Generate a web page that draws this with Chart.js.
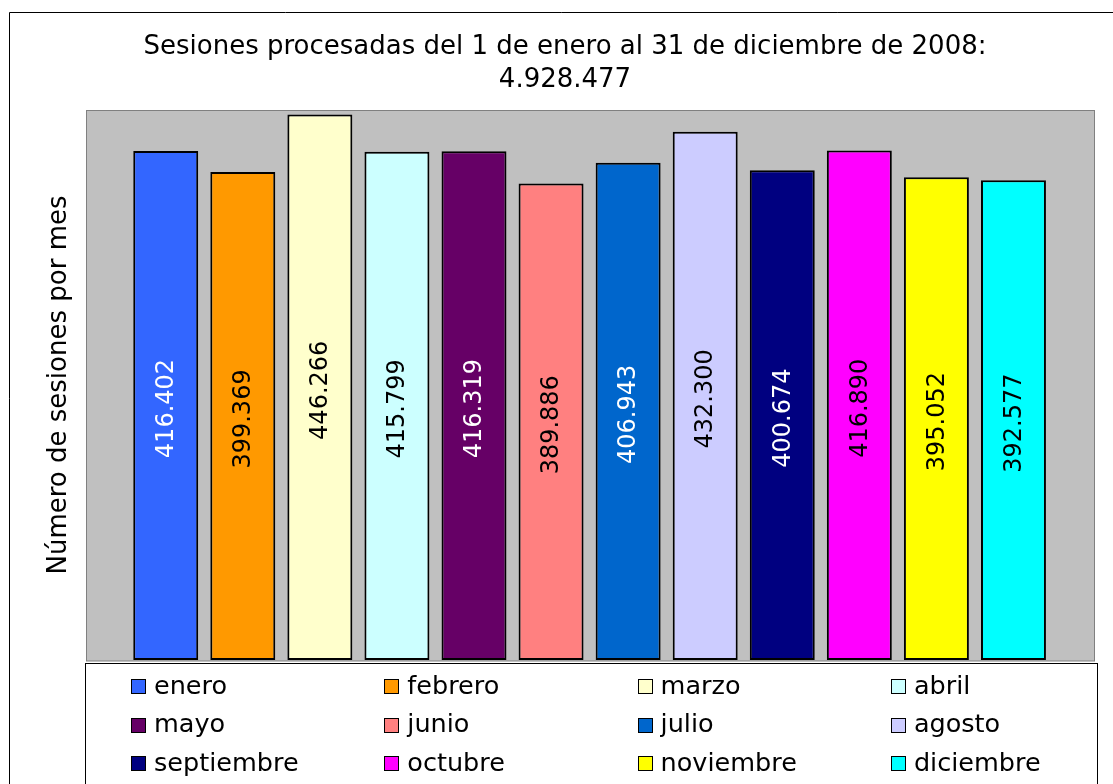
<!DOCTYPE html>
<html>
<head>
<meta charset="utf-8">
<script src="https://cdn.jsdelivr.net/npm/chart.js@4/dist/chart.umd.min.js"></script>
<style>
html,body{margin:0;padding:0;background:#fff;}
#wrap{width:1113px;height:784px;}
</style>
</head>
<body>
<div id="wrap"><canvas id="c" width="1113" height="784"></canvas></div>
<script>
const titleLines = ["Sesiones procesadas del 1 de enero al 31 de diciembre de 2008:", "4.928.477"];
const yTitle = "Número de sesiones por mes";
const months = ["enero","febrero","marzo","abril","mayo","junio","julio","agosto","septiembre","octubre","noviembre","diciembre"];
const sessions = [416402,399369,446266,415799,416319,389886,406943,432300,400674,416890,395052,392577];
const valueLabels = ["416.402","399.369","446.266","415.799","416.319","389.886","406.943","432.300","400.674","416.890","395.052","392.577"];
const barColors = ["#3366FF","#FF9900","#FFFFCC","#CCFFFF","#660066","#FF8080","#0066CC","#CCCCFF","#000080","#FF00FF","#FFFF00","#00FFFF"];
const labelColors = ["#FFFFFF","#000000","#000000","#000000","#FFFFFF","#000000","#FFFFFF","#000000","#FFFFFF","#000000","#000000","#000000"];

const FONT = "'DejaVu Sans', Verdana, sans-serif";

const decor = {
  id: 'decor',
  beforeDraw(chart) {
    const ctx = chart.ctx;
    const a = chart.chartArea;
    const step = (a.right - a.left) / months.length;
    ctx.save();
    ctx.fillStyle = '#fff';
    ctx.fillRect(0, 0, chart.width, chart.height);
    // outer border
    ctx.strokeStyle = '#000';
    ctx.lineWidth = 1;
    ctx.beginPath();
    ctx.moveTo(9.5, chart.height + 2);
    ctx.lineTo(9.5, 12.5);
    ctx.lineTo(chart.width + 2, 12.5);
    ctx.stroke();
    // plot background
    const px0 = Math.round(a.left - step * 0.53) + 0.5;
    const px1 = Math.round(a.right + step * 0.54) + 0.5;
    ctx.fillStyle = '#C0C0C0';
    ctx.fillRect(px0, a.top, px1 - px0, a.bottom - a.top + 1);
    ctx.strokeStyle = '#808080';
    ctx.strokeRect(px0, a.top + 0.5, px1 - px0, a.bottom - a.top + 0.5);
    // title
    ctx.fillStyle = '#000';
    ctx.font = "26px " + FONT;
    ctx.textAlign = 'center';
    ctx.textBaseline = 'middle';
    ctx.fillText(titleLines[0], 565, 47);
    ctx.fillText(titleLines[1], 565, 80);
    ctx.restore();
  },
  afterDraw(chart) {
    const ctx = chart.ctx;
    const a = chart.chartArea;
    const meta = chart.getDatasetMeta(0);
    ctx.save();
    // value labels inside bars
    ctx.font = "24px " + FONT;
    ctx.textAlign = 'center';
    ctx.textBaseline = 'middle';
    meta.data.forEach((bar, i) => {
      const cy = (bar.y + bar.base) / 2;
      ctx.save();
      ctx.translate(bar.x, cy);
      ctx.rotate(-Math.PI / 2);
      ctx.fillStyle = labelColors[i];
      ctx.fillText(valueLabels[i], -3, 1);
      ctx.restore();
    });
    // legend box
    const lx0 = 85.5, lx1 = 1097.5, ly0 = a.bottom + 3.5;
    ctx.fillStyle = '#fff';
    ctx.fillRect(lx0, ly0, lx1 - lx0, chart.height - ly0 + 2);
    ctx.strokeStyle = '#000';
    ctx.lineWidth = 1;
    ctx.strokeRect(lx0, ly0, lx1 - lx0, chart.height - ly0 + 10);
    ctx.font = "25.5px " + FONT;
    ctx.textAlign = 'left';
    ctx.textBaseline = 'middle';
    months.forEach((m, i) => {
      const col = i % 4, row = Math.floor(i / 4);
      const sx = 131 + col * 253.3;
      const sy = 686 + row * 38.5;
      ctx.fillStyle = barColors[i];
      ctx.fillRect(Math.round(sx) + 0.5, Math.round(sy - 7) + 0.5, 14, 14);
      ctx.strokeStyle = '#000';
      ctx.strokeRect(Math.round(sx) + 0.5, Math.round(sy - 7) + 0.5, 14, 14);
      ctx.fillStyle = '#000';
      ctx.fillText(m, sx + 23, sy + 1);
    });
    ctx.restore();
  }
};

new Chart(document.getElementById('c'), {
  type: 'bar',
  data: {
    labels: months,
    datasets: [{
      label: 'Sesiones',
      data: sessions,
      backgroundColor: barColors,
      borderColor: '#000',
      borderWidth: 2,
      borderSkipped: false,
      barPercentage: 0.843,
      categoryPercentage: 1.0
    }]
  },
  options: {
    responsive: false,
    animation: false,
    events: [],
    layout: { padding: { top: 110, bottom: 124, left: 16, right: 61 } },
    plugins: {
      legend: { display: false },
      title: { display: false },
      tooltip: { enabled: false }
    },
    scales: {
      x: { display: false, offset: true },
      y: {
        display: true,
        min: 0,
        max: 450000,
        ticks: { display: false },
        grid: { display: false, drawTicks: false },
        border: { display: false },
        title: {
          display: true,
          text: yTitle,
          color: '#000',
          font: { family: FONT, size: 26 },
          padding: { top: 28, bottom: 52 }
        }
      }
    }
  },
  plugins: [decor]
});
</script>
</body>
</html>
